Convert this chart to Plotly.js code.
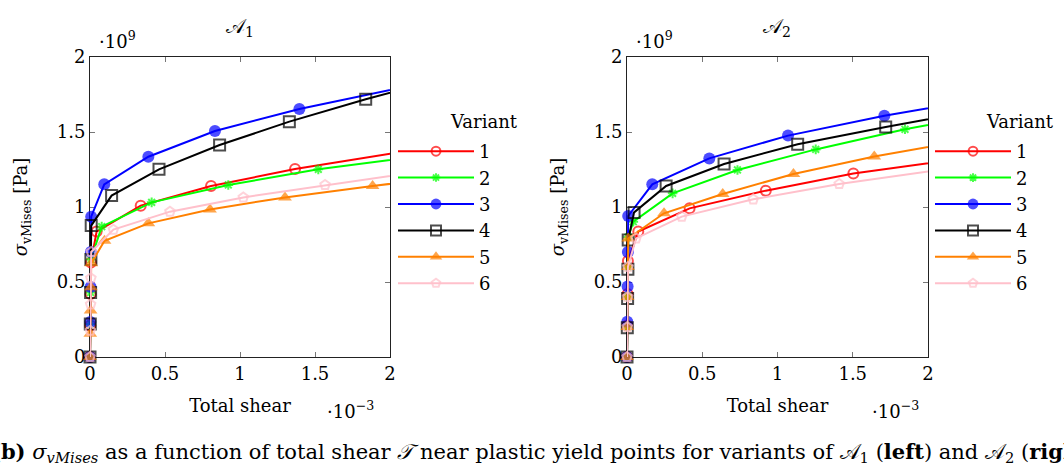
<!DOCTYPE html>
<html><head><meta charset="utf-8">
<script src="https://cdn.plot.ly/plotly-3.0.1.min.js"></script>
<style>html,body{margin:0;padding:0;background:#fff;}#chart{width:1064px;height:471px;}</style>
</head><body><div id="chart"></div>
<script>
// Units: shear in 1e-3, stress in 1e9 Pa
const variants = ["1","2","3","4","5","6"];
const colors = ["#ff0000","#00ff00","#0000ff","#000000","#ff8000","#ffc0cb"];

// A1
const a1_x_v1 = [0,0.002,0.004,0.006,0.044,0.338,0.807,1.367,2.05];
const a1_y_v1 = [0,0.21,0.42,0.63,0.836,1.009,1.14,1.253,1.363];
const a1_x_v2 = [0,0.002,0.004,0.006,0.078,0.411,0.922,1.522,2.2];
const a1_y_v2 = [0,0.22,0.43,0.65,0.869,1.031,1.147,1.251,1.34];
const a1_x_v3 = [0,0.002,0.004,0.006,0.008,0.095,0.389,0.833,1.396,2.2];
const a1_y_v3 = [0,0.233,0.466,0.70,0.935,1.151,1.335,1.507,1.653,1.822];
const a1_x_v4 = [0,0.002,0.004,0.006,0.008,0.144,0.46,0.864,1.329,1.838,2.4];
const a1_y_v4 = [0,0.22,0.43,0.65,0.876,1.076,1.251,1.413,1.569,1.718,1.87];
const a1_x_v5 = [0,0.002,0.004,0.006,0.008,0.097,0.389,0.8,1.3,1.884,2.5];
const a1_y_v5 = [0,0.155,0.31,0.465,0.625,0.775,0.891,0.984,1.064,1.14,1.215];
const a1_x_v6 = [0,0.002,0.004,0.006,0.008,0.156,0.533,1.022,1.567,2.2];
const a1_y_v6 = [0,0.175,0.35,0.525,0.70,0.849,0.969,1.064,1.147,1.235];

// A2
const a2_x_v1 = [0,0.002,0.004,0.006,0.075,0.416,0.922,1.504,2.2];
const a2_y_v1 = [0,0.21,0.42,0.64,0.836,0.991,1.109,1.224,1.318];
const a2_x_v2 = [0,0.002,0.004,0.006,0.008,0.042,0.303,0.734,1.254,1.847,2.5];
const a2_y_v2 = [0,0.2,0.4,0.6,0.8,0.902,1.091,1.247,1.384,1.518,1.64];
const a2_x_v3 = [0,0.002,0.004,0.006,0.008,0.168,0.547,1.07,1.71,2.4];
const a2_y_v3 = [0,0.235,0.47,0.70,0.94,1.151,1.324,1.476,1.609,1.725];
const a2_x_v4 = [0,0.002,0.004,0.006,0.008,0.047,0.26,0.645,1.134,1.719,2.4];
const a2_y_v4 = [0,0.195,0.39,0.585,0.78,0.964,1.14,1.287,1.418,1.533,1.66];
const a2_x_v5 = [0,0.002,0.004,0.006,0.008,0.246,0.636,1.106,1.643,2.3];
const a2_y_v5 = [0,0.2,0.4,0.6,0.79,0.958,1.087,1.22,1.336,1.455];
const a2_x_v6 = [0,0.002,0.004,0.006,0.06,0.364,0.839,1.41,2.1];
const a2_y_v6 = [0,0.2,0.4,0.6,0.791,0.936,1.051,1.153,1.25];

const tickVals = [0,0.5,1,1.5,2];
const tickText = ["0","0.5","1","1.5","2"];

const FONT = "DejaVu Serif";
const markerStyles = [
  {symbol:"circle-open", size:10, line:{width:2}},
  {symbol:"asterisk-open", size:8, line:{width:2}},
  {symbol:"circle", size:12, line:{width:0}},
  {symbol:"square-open", size:11, line:{width:2}},
  {symbol:"triangle-up", size:12, line:{width:0}},
  {symbol:"pentagon-open", size:10, line:{width:2}}
];
const A1 = [[a1_x_v1,a1_y_v1],[a1_x_v2,a1_y_v2],[a1_x_v3,a1_y_v3],[a1_x_v4,a1_y_v4],[a1_x_v5,a1_y_v5],[a1_x_v6,a1_y_v6]];
const A2 = [[a2_x_v1,a2_y_v1],[a2_x_v2,a2_y_v2],[a2_x_v3,a2_y_v3],[a2_x_v4,a2_y_v4],[a2_x_v5,a2_y_v5],[a2_x_v6,a2_y_v6]];
const XMAX = 2;

const traces = [];
function addSet(set, xa, ya, leg){
  set.forEach((d,i)=>{
    const ms = markerStyles[i];
    traces.push({
      type:"scatter", mode:"lines+markers", x:d[0], y:d[1], xaxis:xa, yaxis:ya,
      name:variants[i], legend:leg, cliponaxis:false,
      line:{color:colors[i], width:2},
      marker:{symbol:ms.symbol, color:colors[i], size:d[0].map(v=>v>XMAX?0:ms.size),
              line:{color:colors[i], width:ms.line.width}}
    });
  });
}
addSet(A1,"x","y","legend");
addSet(A2,"x2","y2","legend2");

const W=1064,H=471;
const FS = 18;
const axX = (a,b)=>({domain:[a/W,b/W], range:[0,2], tickvals:tickVals, ticktext:tickText,
  ticks:"inside", ticklen:5, tickcolor:"#777", mirror:"ticks", showline:true, linecolor:"#222", linewidth:1,
  showgrid:false, zeroline:false, layer:"below traces",
  tickfont:{family:FONT,size:FS,color:"#000"},
  title:{text:"Total shear", font:{family:FONT,size:FS,color:"#000"}, standoff:16}});
const axY = (anchor)=>({domain:[1-357/H,1-57/H], range:[0,2], anchor:anchor, tickvals:tickVals, ticktext:tickText,
  ticks:"inside", ticklen:5, tickcolor:"#777", mirror:"ticks", showline:true, linecolor:"#222", linewidth:1,
  showgrid:false, zeroline:false, layer:"below traces",
  tickfont:{family:FONT,size:FS,color:"#000"},
  title:{text:"<i>σ</i><sub>vMises</sub> [Pa]", font:{family:FONT,size:FS,color:"#000"}, standoff:24}});

const legendBase = {xanchor:"left", yanchor:"top", bgcolor:"rgba(255,255,255,0)", borderwidth:0,
  font:{family:FONT,size:FS,color:"#000"}, itemwidth:76, tracegroupgap:0};

const ann = (text,x,y,size,extra)=>Object.assign({text:text, xref:"paper", yref:"paper", x:x/W, y:1-y/H,
  showarrow:false, font:{family:FONT,size:size,color:"#000"}, xanchor:"center", yanchor:"middle"}, extra||{});

const layout = {
  width:W, height:H, margin:{l:0,r:0,t:0,b:0}, paper_bgcolor:"#fff", plot_bgcolor:"#fff",
  showlegend:true,
  xaxis:axX(90,390), yaxis:axY("x"),
  xaxis2:Object.assign(axX(627,928),{anchor:"y2"}), yaxis2:axY("x2"),
  legend:Object.assign({x:393/W, y:1-133/H}, legendBase),
  legend2:Object.assign({x:930/W, y:1-133/H}, legendBase),
  annotations:[
    ann("𝒜<sub>1</sub>",240,27,20),
    ann("𝒜<sub>2</sub>",777,27,20),
    ann("·10<sup>9</sup>",117,40,18),
    ann("·10<sup>9</sup>",654,40,18),
    ann("·10<sup>−3</sup>",350,410,18),
    ann("·10<sup>−3</sup>",895,410,18),
    ann("Variant",484,122,FS),
    ann("Variant",1020,122,FS),
    ann("<b>(b)</b> <i>σ<sub>vMises</sub></i> as a function of total shear <i>𝒯</i> near plastic yield points for variants of 𝒜<sub>1</sub> (<b>left</b>) and 𝒜<sub>2</sub> (<b>right</b>).", -11, 452, 21, {xanchor:"left"})
  ]
};
Plotly.newPlot("chart", traces, layout, {staticPlot:true, displayModeBar:false});
</script>
</body></html>
